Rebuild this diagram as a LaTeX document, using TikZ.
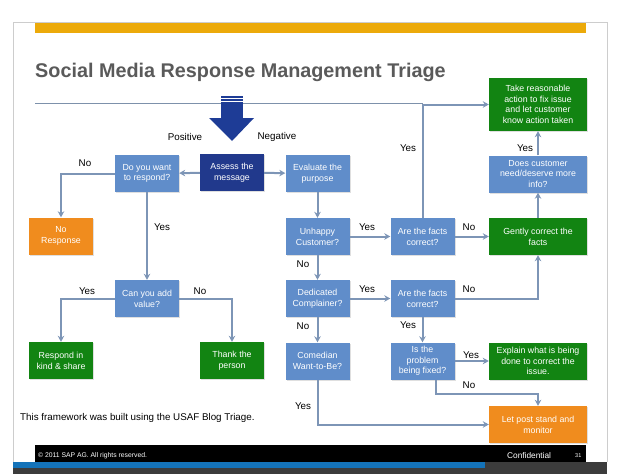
\documentclass[tikz,border=0pt]{standalone}
\usepackage{fontspec}
\setmainfont{Liberation Sans}
\usepackage{tikz}
\usetikzlibrary{arrows.meta, positioning, calc, shadows}
\definecolor{boxblue}{RGB}{96,141,202}
\definecolor{boxnavy}{RGB}{33,57,140}
\definecolor{boxgreen}{RGB}{18,132,18}
\definecolor{boxorange}{RGB}{240,140,30}
\definecolor{linkgray}{RGB}{125,149,182}
\definecolor{titlegray}{RGB}{90,90,90}
\definecolor{framegray}{RGB}{205,205,205}
\definecolor{barnavy}{RGB}{30,60,150}
\definecolor{goldbar}{RGB}{236,170,10}
\definecolor{footblue}{RGB}{20,115,185}
\definecolor{footdark}{RGB}{60,60,60}
\tikzset{
  block/.style={rectangle, fill=boxblue, text=white, align=center,
    minimum width=64pt, minimum height=37pt, inner sep=1pt,
    font=\fontsize{8.8}{10.7}\selectfont,
    drop shadow={shadow xshift=1pt, shadow yshift=-1pt, opacity=0.25}},
  navyblock/.style={block, fill=boxnavy},
  greenblock/.style={block, fill=boxgreen},
  orangeblock/.style={block, fill=boxorange},
  wide/.style={minimum width=98pt},
  arrow/.style={-{Stealth[length=6pt, width=6.5pt]}, line width=2pt, color=linkgray},
  answer/.style={font=\fontsize{9.8}{11}\selectfont, text=black, inner sep=0pt}
}
\begin{document}
\begin{tikzpicture}[x=1pt, y=-1pt]
  \useasboundingbox (0,0) rectangle (620,474);
  % slide frame and bars
  \draw[framegray, line width=0.8pt] (13,474) -- (13,22) -- (607,22) -- (607,462);
  \fill[goldbar] (35,23) rectangle (586,33);
  \node[anchor=base west, inner sep=0pt, text=titlegray,
    font=\fontsize{19.8}{22}\selectfont\bfseries] (title) at (35,77)
    {Social Media Response Management Triage};
  \draw[linkgray!80!gray, line width=1pt] (35,103) -- (423,103);

  % boxes
  \node[block] (want) at (147,173.5) {Do you want\\to respond?};
  \node[navyblock] (assess) at (232,172.5) {Assess the\\message};
  \node[block] (evaluate) at (317.5,173.5) {Evaluate the\\purpose};
  \node[block] (unhappy) at (317.5,236.5) {Unhappy\\Customer?};
  \node[block] (facts1) at (422.5,236.5) {Are the facts\\correct?};
  \node[greenblock, wide] (gently) at (538,236.5) {Gently correct the\\facts};
  \node[block, wide] (more) at (538,174) {Does customer\\need/deserve more\\info?};
  \node[greenblock, wide, minimum height=53pt] (take) at (538,104.5)
    {Take reasonable\\action to fix issue\\and let customer\\know action taken};
  \node[block] (dedicated) at (317.5,298.5) {Dedicated\\Complainer?};
  \node[block] (facts2) at (422.5,298.5) {Are the facts\\correct?};
  \node[block] (comedian) at (317.5,361) {Comedian\\Want-to-Be?};
  \node[block] (fixed) at (422.5,361) {Is the\\problem\\being fixed?};
  \node[greenblock, wide] (explain) at (538,361)
    {Explain what is being\\done to correct the\\issue.};
  \node[orangeblock, wide] (letpost) at (538,424.5) {Let post stand and\\monitor};
  \node[orangeblock] (noresp) at (61,236) {No\\Response};
  \node[block] (addval) at (147,298.5) {Can you add\\value?};
  \node[greenblock] (respond) at (61,360.5) {Respond in\\kind \& share};
  \node[greenblock] (thank) at (232,360.5) {Thank the\\person};

  % connectors
  \draw[arrow] (assess) -- (want);
  \draw[arrow] (assess) -- (evaluate);
  \draw[arrow] (evaluate) -- (unhappy);
  \draw[arrow] (unhappy) -- (facts1);
  \draw[arrow] (facts1) -- (gently);
  \draw[arrow] (facts1.north) |- (take.west);
  \draw[arrow] (gently) -- (more);
  \draw[arrow] (more) -- (take);
  \draw[arrow] (unhappy) -- (dedicated);
  \draw[arrow] (dedicated) -- (facts2);
  \draw[arrow] (facts2.east) -| (gently.south);
  \draw[arrow] (dedicated) -- (comedian);
  \draw[arrow] (facts2) -- (fixed);
  \draw[arrow] (fixed) -- (explain);
  \draw[arrow] ([xshift=13.5pt]fixed.south) -- ++(0,14) -| (letpost.north);
  \draw[arrow] (comedian.south) |- (letpost.west);
  \draw[arrow] (want.west) -| (noresp.north);
  \draw[arrow] (want) -- (addval);
  \draw[arrow] (addval.west) -| (respond.north);
  \draw[arrow] (addval.east) -| (thank.north);

  % answers
  \node[answer] at (185,137) {Positive};
  \node[answer] at (277,137) {Negative};
  \node[answer] at (85,163) {No};
  \node[answer] at (162,227) {Yes};
  \node[answer] at (87,291) {Yes};
  \node[answer] at (200,291) {No};
  \node[answer] at (408,148) {Yes};
  \node[answer] at (525,148) {Yes};
  \node[answer] at (367,227) {Yes};
  \node[answer] at (469,227) {No};
  \node[answer] at (303,264) {No};
  \node[answer] at (367,289) {Yes};
  \node[answer] at (469,289) {No};
  \node[answer] at (303,326) {No};
  \node[answer] at (408,325) {Yes};
  \node[answer] at (471,355) {Yes};
  \node[answer] at (469,385) {No};
  \node[answer] at (303,406) {Yes};

  % entry arrow
  \fill[barnavy] (221,96) rectangle (243,118);
  \fill[barnavy] (209,118) -- (254,118) -- (232,141) -- cycle;
  \draw[white, line width=0.7pt] (221,98.6) -- (243,98.6);
  \draw[white, line width=0.7pt] (221,101.4) -- (243,101.4);

  % footer
  \node[anchor=west, inner sep=0pt, font=\fontsize{9.8}{11}\selectfont] (note)
    at (20,418) {This framework was built using the USAF Blog Triage.};
  \fill[black] (35,445) rectangle (586,462);
  \fill[footdark] (13,462) rectangle (607,474);
  \fill[footblue] (13,462) rectangle (485,468);
  \node[anchor=west, inner sep=0pt, text=white, font=\fontsize{6.8}{8}\selectfont]
    (copy) at (38,455.5) {\textcopyright{} 2011 SAP AG. All rights reserved.};
  \node[anchor=west, inner sep=0pt, text=white, font=\fontsize{8.3}{10}\selectfont]
    (conf) at (507,455.5) {Confidential};
  \node[anchor=west, inner sep=0pt, text=white, font=\fontsize{5.5}{6}\selectfont]
    (page) at (575,456) {31};
\end{tikzpicture}
\end{document}
